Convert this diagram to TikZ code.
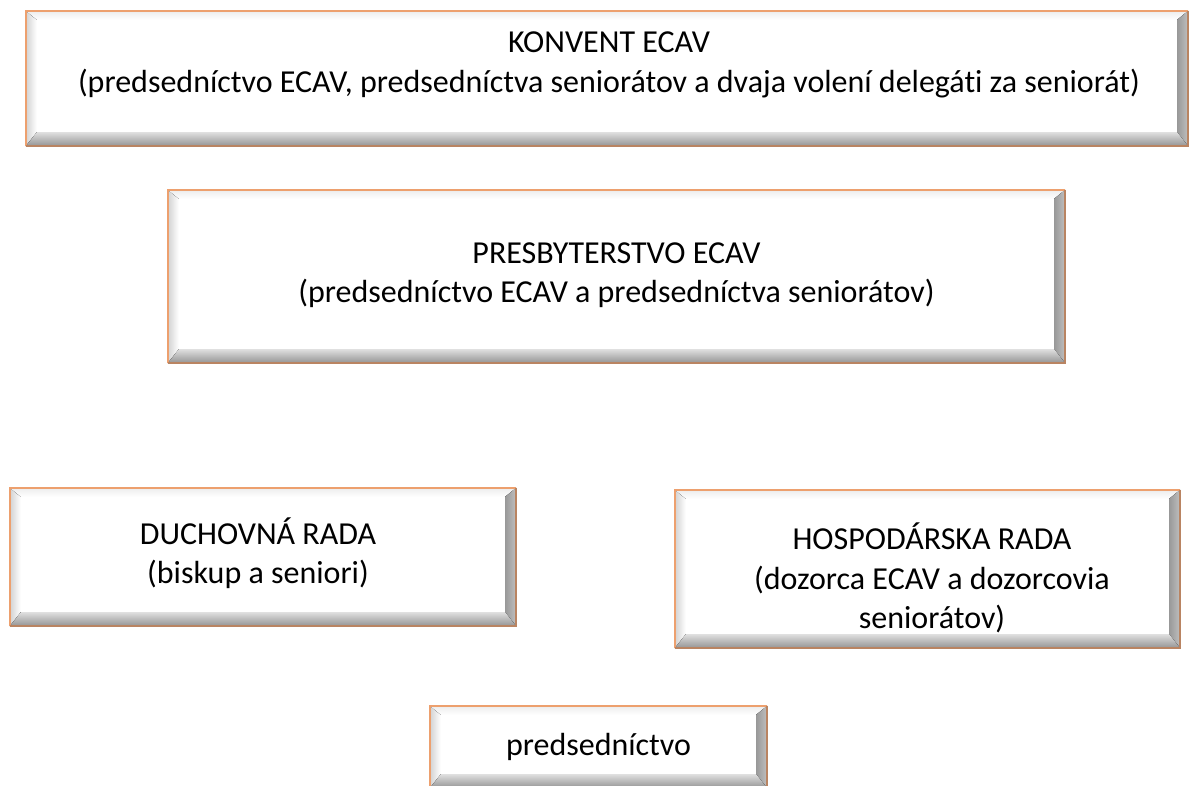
\documentclass[tikz,border=0pt]{standalone}
\usepackage{fontspec}
\setmainfont[Ligatures=NoCommon]{Carlito}
\usetikzlibrary{calc}
\definecolor{bord}{HTML}{EDA06E}
\definecolor{bordd}{HTML}{B98462}
\tikzset{
  x=1pt,y=1pt,
  boxshape/.style={draw=none,fill=white,rectangle,inner sep=0pt},
  boxtext/.style={align=center,font=\fontsize{32}{39.5}\selectfont,text=black},
}
% #1 name
\newcommand\bevel[1]{%
  \fill[left color=gray!35,right color=white] (#1.south west) -- (#1.north west) -- ($(#1.north west)+(11,-9)$) -- ($(#1.south west)+(11,14)$) -- cycle;
  \fill[top color=gray!15,bottom color=white] (#1.north west) -- (#1.north east) -- ($(#1.north east)+(-11,-9)$) -- ($(#1.north west)+(11,-9)$) -- cycle;
  \fill[left color=gray!80,right color=gray!50] (#1.north east) -- (#1.south east) -- ($(#1.south east)+(-11,14)$) -- ($(#1.north east)+(-11,-9)$) -- cycle;
  \fill[top color=gray!25,bottom color=gray!85] (#1.south west) -- (#1.south east) -- ($(#1.south east)+(-11,14)$) -- ($(#1.south west)+(11,14)$) -- cycle;
  \draw[bord,line width=2pt] (#1.south west) -- (#1.north west) -- (#1.north east);
  \draw[bordd,line width=2pt] (#1.north east) -- (#1.south east) -- (#1.south west);
}
\begin{document}
\begin{tikzpicture}
\useasboundingbox (0,0) rectangle (1192,786);
\node[boxshape,minimum width=1162,minimum height=135] (b1) at (607,707.5) {};
\bevel{b1}
\node[boxtext] (t1) at (609,721) {KONVENT ECAV\\(predsedníctvo ECAV, predsedníctva seniorátov a dvaja volení delegáti za seniorát)};

\node[boxshape,minimum width=897,minimum height=173] (b2) at (616.5,509.5) {};
\bevel{b2}
\node[boxtext] (t2) at (616.5,511) {PRESBYTERSTVO ECAV\\(predsedníctvo ECAV a predsedníctva seniorátov)};

\node[boxshape,minimum width=506,minimum height=138] (b3) at (263,229) {};
\bevel{b3}
\node[boxtext] (t3) at (258,233) {DUCHOVNÁ RADA\\(biskup a seniori)};

\node[boxshape,minimum width=505,minimum height=158] (b4) at (927.5,217) {};
\bevel{b4}
\node[boxtext] (t4) at (932,208) {HOSPODÁRSKA RADA\\(dozorca ECAV a dozorcovia\\seniorátov)};

\node[boxshape,minimum width=337,minimum height=82] (b5) at (598.5,39) {};
\bevel{b5}
\node[boxtext] (t5) at (598.5,39) {predsedníctvo};
\end{tikzpicture}
\end{document}
